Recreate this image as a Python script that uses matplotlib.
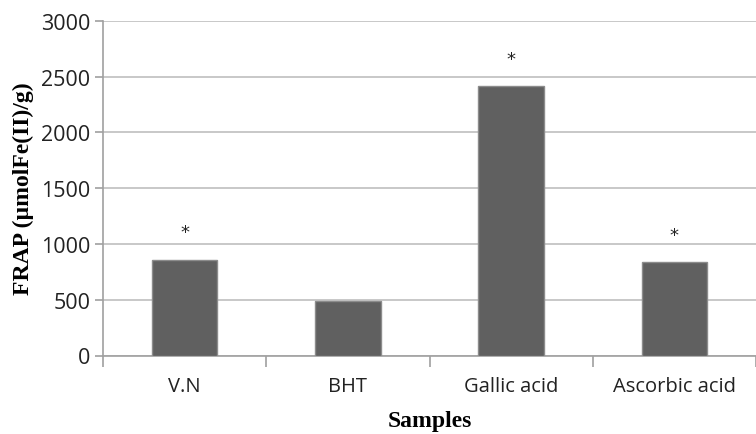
import matplotlib
matplotlib.use("Agg")
import matplotlib.pyplot as plt
import numpy as np

categories = ["V.N", "BHT", "Gallic acid", "Ascorbic acid"]
frap = [860, 485, 2417, 841]
significant = [True, False, True, True]
yticks = [0, 500, 1000, 1500, 2000, 2500, 3000]

fig = plt.figure(figsize=(7.56, 4.35), dpi=100)
ax = fig.add_axes([103/756, (435-356.5)/435, 1 - 103/756, (356.5-21.7)/435])

x = np.arange(len(categories))
ax.bar(x, frap, width=0.40, color="#606060", edgecolor="#8c8c8c", linewidth=1.0, zorder=3)
for xi, v, s in zip(x, frap, significant):
    if s:
        ax.annotate("*", (xi, v), xytext=(0, 13), textcoords="offset points",
                    ha="center", va="bottom", fontsize=13, family="DejaVu Sans", color="#222222")

ax.set_ylim(0, 3000)
ax.set_xlim(-0.5, (756 - 103) / 166 - 0.5)
ax.set_yticks(yticks)
ax.set_yticklabels([str(t) for t in yticks], family="Open Sans", fontsize=15.5, color="#222222")
ax.yaxis.grid(True, color="#c4c4c4", linewidth=1.3, zorder=0)
ax.set_axisbelow(True)

ax.set_xticks(np.arange(len(categories) + 1) - 0.5)
ax.set_xticklabels([])
ax.set_xticks(x, minor=True)
ax.set_xticklabels(categories, minor=True, family="Open Sans", fontsize=14.5, color="#222222")
ax.tick_params(axis="x", which="major", length=8, width=1.2, color="#a0a0a0", direction="out")
ax.tick_params(axis="x", which="minor", length=0, pad=15)
ax.tick_params(axis="y", length=6, width=1.2, color="#a0a0a0", pad=3)

for side in ["top", "right"]:
    ax.spines[side].set_visible(False)
for side in ["left", "bottom"]:
    ax.spines[side].set_color("#a0a0a0")
    ax.spines[side].set_linewidth(1.2)

ax.set_ylabel("FRAP (µmolFe(II)/g)", family="Liberation Serif", fontweight="bold", fontsize=17, labelpad=5)
ax.set_xlabel("Samples", family="Liberation Serif", fontweight="bold", fontsize=17, labelpad=10)

fig.savefig("out.png", dpi=100)
